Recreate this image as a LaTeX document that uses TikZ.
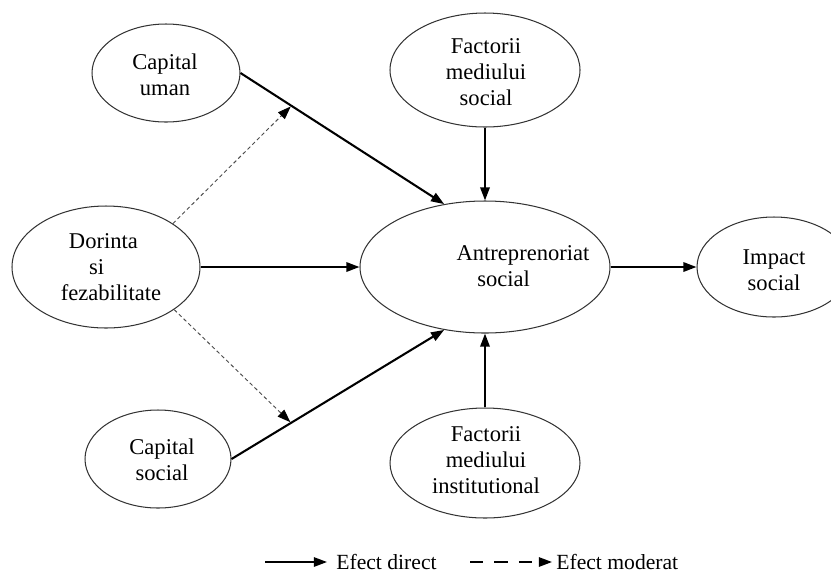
\documentclass[tikz,border=0pt]{standalone}
\usepackage{fontspec}
\setmainfont{Liberation Serif}
\usetikzlibrary{shapes.geometric,arrows.meta,calc}

\begin{document}
\begin{tikzpicture} [x=0.532pt, y=-0.532pt, font=\fontsize{12}{14}\selectfont, >={Triangle[length=7pt,width=5pt,color=black]},
		oval/.style 2 args={ellipse, draw=black!80, line width=0.55pt, inner sep=0pt, minimum width=#1*0.532pt, minimum height=#2*0.532pt},
		txt/.style={inner sep=0pt, align=center},
		legtxt/.style={anchor=base west, inner sep=0pt, font=\fontsize{11.5}{13}\selectfont},
		direct/.style={->, line width=1.1pt},
		moderat/.style={->, draw=black!70, line width=0.5pt, dash pattern=on 2pt off 1.5pt, shorten >=0.5pt}]
	\useasboundingbox (0,0) rectangle (831,574);
	\node[oval={148}{98}] (uman) at (166,73) {};
	\node[oval={190}{114}] (fsoc) at (485,70) {};
	\node[oval={188}{122}] (dor) at (106,267) {};
	\node[oval={250}{132}] (antre) at (485,267) {};
	\node[oval={154}{100}] (impact) at (774,267) {};
	\node[oval={146}{98}] (csoc) at (158,459) {};
	\node[oval={190}{110}] (finst) at (485,463) {};
	\node[txt] (umantxt) at (165,75) {Capital\\uman};
	\node[txt] (fsoctxt) at (486,72) {Factorii\\mediului\\social};
	\node[txt, align=left] (dortxt) at (111,267) {\hspace*{4.3pt}Dorinta\\\hspace*{15pt}si\\fezabilitate};
	\node[txt, align=left] (antretxt) at (523,266) {Antreprenoriat\\\hspace*{11pt}social};
	\node[txt] (impacttxt) at (774,270) {Impact\\social};
	\node[txt] (csoctxt) at (162,460) {Capital\\social};
	\node[txt] (finsttxt) at (486,460) {Factorii\\mediului\\institutional};
	\draw[direct] (uman.east) -- (antre.123);
	\draw[direct] (fsoc.south) -- (antre.north);
	\draw[direct] (dor.east) -- (antre.west);
	\draw[direct] (csoc.east) -- (antre.237);
	\draw[direct] (finst.north) -- (antre.south);
	\draw[direct] (antre.east) -- (impact.west);
	\coordinate (mup) at ($(uman.east)!0.25!(antre.123)$);
	\coordinate (mdown) at ($(csoc.east)!0.28!(antre.237)$);
	\draw[moderat] (dor.33) -- (mup);
	\draw[moderat] (dor.328) -- (mdown);
	\coordinate (dira) at (265,562);
	\coordinate (dirb) at (327,562);
	\coordinate (moda) at (470,562);
	\coordinate (modb) at (552,562);
	\draw[->, line width=0.9pt] (dira) -- (dirb);
	\draw[->, line width=0.9pt, dash pattern=on 7pt off 6pt] (moda) -- (modb);
	\node[legtxt] (legdir) at (336,569) {Efect direct};
	\node[legtxt] (legmod) at (556,569) {Efect moderat};
\end{tikzpicture}
\end{document}
